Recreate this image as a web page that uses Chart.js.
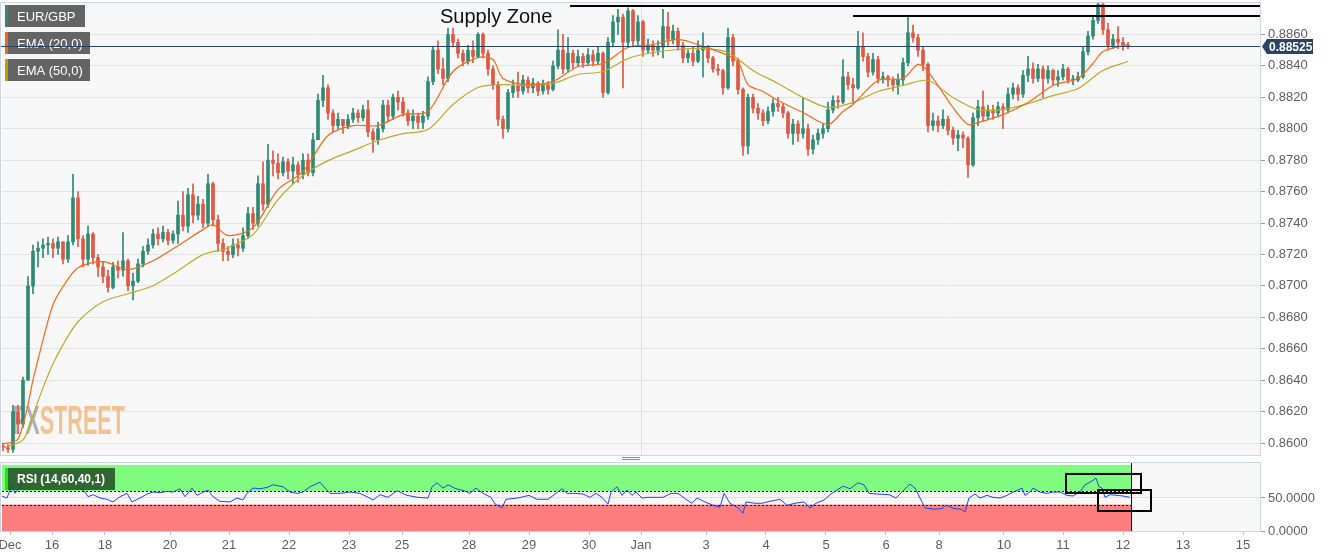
<!DOCTYPE html>
<html>
<head>
<meta charset="utf-8">
<title>EUR/GBP</title>
<script src="https://cdn.jsdelivr.net/npm/chart.js@4.4.0/dist/chart.umd.min.js"></script>
<style>
  html, body { margin: 0; padding: 0; background: #fff; }
  #wrap { position: relative; width: 1331px; height: 558px; }
  #main { position: absolute; left: 0; top: 0; }
  #rsi { position: absolute; left: 0; top: 458px; }
  .handle { position: absolute; left: 622px; width: 18px; height: 1px; background: #8a8a8a; }
</style>
</head>
<body>
<div id="wrap">
  <canvas id="main" width="1331" height="458"></canvas>
  <canvas id="rsi" width="1331" height="100"></canvas>
  <div class="handle" style="top:457px"></div>
  <div class="handle" style="top:459px"></div>
</div>

<script>
// EUR/GBP candles, one per slot (open = previous close)
const firstOpen = 0.8598;
const closes = [
  .8597, .8596, .8620, .8612, .8640, .8700, .8722, .8724, .8726, .8727,
  .8724, .8728, .8717, .8728, .8756, .8730, .8717, .8733, .8718, .8712,
  .8706, .8699, .8712, .8710, .8716, .8700, .8703, .8714, .8722, .8726,
  .8733, .8730, .8734, .8729, .8733, .8745, .8738, .8758, .8745, .8752,
  .8740, .8765, .8742, .8727, .8722, .8720, .8726, .8724, .8732, .8746,
  .8740, .8765, .8752, .8780, .8778, .8772, .8779, .8773, .8777, .8771,
  .8780, .8772, .8793, .8818, .8826, .8810, .8802, .8806, .8802, .8806,
  .8810, .8807, .8812, .8798, .8793, .8800, .8815, .8808, .8820, .8817,
  .8810, .8805, .8808, .8804, .8808, .8830, .8850, .8838, .8832, .8860,
  .8855, .8848, .8843, .8850, .8846, .8860, .8848, .8838, .8828, .8806,
  .8800, .8823, .8827, .8824, .8831, .8826, .8829, .8824, .8828, .8825,
  .8840, .8850, .8838, .8848, .8842, .8846, .8842, .8847, .8843, .8848,
  .8823, .8855, .8868, .8871, .8855, .8875, .8856, .8868, .8850, .8853,
  .8850, .8852, .8865, .8857, .8862, .8853, .8845, .8848, .8843, .8850,
  .8852, .8845, .8838, .8837, .8826, .8858, .8843, .8825, .8789, .8820,
  .8813, .8810, .8805, .8811, .8816, .8814, .8810, .8797, .8803, .8797,
  .8800, .8787, .8793, .8797, .8800, .8812, .8818, .8817, .8833, .8828,
  .8826, .8852, .8846, .8836, .8844, .8832, .8833, .8831, .8828, .8831,
  .8842, .8861, .8858, .8850, .8841, .8802, .8805, .8802, .8806, .8799,
  .8794, .8796, .8794, .8777, .8807, .8814, .8808, .8812, .8810, .8814,
  .8812, .8822, .8826, .8822, .8834, .8838, .8832, .8838, .8832, .8837,
  .8831, .8833, .8838, .8831, .8831, .8833, .8849, .8859, .8869, .8879,
  .8863, .8853, .8857, .8855, .8853, .88525
];
const highs = [
  .8600, .8599, .8624, .8624, .8642, .8706, .8726, .8728, .8730, .8731,
  .8730, .8731, .8728, .8732, .8771, .8760, .8732, .8738, .8734, .8720,
  .8715, .8710, .8715, .8716, .8734, .8717, .8708, .8717, .8725, .8730,
  .8736, .8737, .8738, .8736, .8735, .8754, .8760, .8762, .8765, .8757,
  .8755, .8771, .8766, .8745, .8730, .8725, .8730, .8730, .8737, .8750,
  .8750, .8770, .8779, .8790, .8786, .8784, .8782, .8781, .8782, .8779,
  .8784, .8784, .8797, .8822, .8834, .8828, .8812, .8810, .8806, .8809,
  .8813, .8812, .8815, .8818, .8800, .8804, .8818, .8818, .8822, .8824,
  .8820, .8812, .8812, .8810, .8811, .8833, .8852, .8856, .8845, .8864,
  .8864, .8857, .8850, .8853, .8856, .8861, .8861, .8850, .8840, .8830,
  .8808, .8825, .8831, .8836, .8834, .8833, .8832, .8830, .8831, .8830,
  .8843, .8863, .8860, .8858, .8850, .8850, .8848, .8851, .8850, .8852,
  .8849, .8858, .8872, .8876, .8873, .8877, .8876, .8872, .8869, .8857,
  .8856, .8856, .8876, .8874, .8866, .8864, .8855, .8850, .8852, .8856,
  .8861, .8853, .8846, .8841, .8838, .8864, .8860, .8845, .8826, .8822,
  .8822, .8816, .8812, .8814, .8819, .8820, .8816, .8811, .8806, .8805,
  .8820, .8803, .8796, .8800, .8803, .8817, .8821, .8821, .8844, .8836,
  .8832, .8862, .8861, .8848, .8848, .8846, .8836, .8834, .8833, .8835,
  .8845, .8871, .8866, .8860, .8852, .8842, .8810, .8808, .8812, .8808,
  .8801, .8799, .8798, .8795, .8810, .8818, .8824, .8815, .8815, .8817,
  .8816, .8826, .8829, .8828, .8837, .8846, .8842, .8841, .8840, .8840,
  .8838, .8837, .8841, .8839, .8834, .8836, .8852, .8862, .8872, .8881,
  .8880, .8867, .8860, .8865, .8858, .8855
];
const lows = [
  .8595, .8594, .8594, .8606, .8610, .8640, .8695, .8712, .8718, .8720,
  .8718, .8720, .8714, .8715, .8726, .8725, .8712, .8713, .8714, .8706,
  .8702, .8696, .8698, .8705, .8706, .8697, .8691, .8702, .8712, .8720,
  .8724, .8726, .8728, .8726, .8727, .8727, .8735, .8734, .8740, .8742,
  .8737, .8738, .8738, .8722, .8716, .8716, .8718, .8719, .8722, .8730,
  .8736, .8738, .8748, .8750, .8770, .8768, .8770, .8768, .8765, .8766,
  .8768, .8770, .8770, .8795, .8814, .8806, .8798, .8800, .8797, .8800,
  .8804, .8804, .8805, .8795, .8785, .8790, .8798, .8805, .8806, .8812,
  .8808, .8802, .8800, .8800, .8800, .8806, .8828, .8835, .8828, .8830,
  .8852, .8845, .8840, .8841, .8842, .8845, .8845, .8834, .8825, .8802,
  .8794, .8798, .8820, .8820, .8822, .8823, .8823, .8821, .8822, .8822,
  .8824, .8838, .8835, .8836, .8838, .8840, .8839, .8840, .8840, .8841,
  .8820, .8822, .8852, .8860, .8826, .8852, .8852, .8853, .8846, .8848,
  .8846, .8847, .8845, .8852, .8854, .8850, .8842, .8842, .8840, .8842,
  .8833, .8842, .8836, .8834, .8822, .8825, .8840, .8822, .8783, .8784,
  .8810, .8806, .8802, .8803, .8808, .8811, .8807, .8794, .8790, .8792,
  .8794, .8783, .8784, .8790, .8794, .8798, .8810, .8813, .8816, .8825,
  .8816, .8825, .8843, .8833, .8834, .8829, .8829, .8827, .8824, .8822,
  .8828, .8840, .8855, .8846, .8837, .8798, .8799, .8798, .8800, .8796,
  .8790, .8786, .8788, .8769, .8776, .8802, .8805, .8806, .8806, .8808,
  .8800, .8810, .8819, .8818, .8820, .8830, .8829, .8830, .8820, .8829,
  .8828, .8827, .8831, .8829, .8828, .8830, .8832, .8847, .8857, .8867,
  .8860, .8850, .8851, .8851, .8850, .8851
];

// moving averages: [slot, price]
const ema20 = [
  [0, .85995], [2, .86007], [3, .86026], [4, .86116], [5, .86243], [6, .86402], [7, .86530],
  [8, .86657], [10, .86880], [12, .86995], [15, .87116], [20, .87154], [25, .87103], [30, .87160],
  [35, .87256], [40, .87358], [42, .87390], [45, .87320], [50, .87371], [55, .87613], [60, .87727],
  [65, .87957], [70, .88020], [75, .88020], [80, .88090], [85, .88110], [90, .88364], [95, .88453],
  [98, .88441], [100, .88320], [105, .88281], [110, .88301], [115, .88396], [120, .88415],
  [125, .88517], [130, .88536], [135, .88568], [140, .88524], [145, .88466], [147, .88428],
  [149, .88281], [152, .88237], [155, .88180], [160, .88103], [165, .88027], [168, .88110],
  [170, .88154], [175, .88307], [180, .88320], [183, .88409], [185, .88364], [190, .88135],
  [193, .88027], [195, .88039], [200, .88090], [205, .88167], [210, .88275], [215, .88320],
  [218, .88415], [220, .88492], [225, .88536]
];
const ema50 = [
  [0, .85969], [4, .86020], [6, .86179], [8, .86351], [10, .86504], [12, .86625], [15, .86772],
  [20, .86899], [25, .86950], [30, .87001], [35, .87097], [40, .87199], [45, .87243], [50, .87326],
  [55, .87549], [60, .87702], [65, .87797], [70, .87861], [75, .87925], [80, .87969], [85, .87995],
  [90, .88154], [95, .88262], [100, .88281], [105, .88275], [110, .88288], [115, .88345],
  [120, .88364], [125, .88447], [130, .88485], [135, .88504], [140, .88511], [145, .88485],
  [150, .88371], [155, .88288], [160, .88199], [165, .88135], [170, .88167], [175, .88237],
  [180, .88275], [185, .88307], [190, .88199], [195, .88122], [200, .88122], [205, .88160],
  [210, .88211], [215, .88256], [220, .88371], [225, .88428]
];

// RSI (14): [slot, value]
const rsi = [
  [-0.6, 54], [0.8, 50], [1.8, 70], [2.4, 57], [3.4, 67], [4.4, 80], [6, 85], [8, 86], [10, 77],
  [12, 80], [14, 73], [15.4, 65], [16.4, 59], [17, 52], [18, 55], [19.4, 50], [20.8, 48], [22, 44],
  [23.4, 52], [24.8, 57], [25.8, 44], [27.4, 50], [28.8, 56], [30, 59], [31.4, 58], [32.8, 60],
  [34, 59], [35.4, 64], [36.4, 52], [37.8, 65], [38.8, 54], [40, 59], [41, 62], [42, 52],
  [43.4, 45], [45.4, 44], [46.8, 50], [48, 47], [48.8, 57], [50, 65], [51.4, 64], [52.8, 66],
  [54, 70], [56, 67], [57.4, 59], [58.8, 57], [60, 59], [61.4, 67], [63.4, 74], [64.4, 65],
  [65.4, 57], [67.4, 57], [69.4, 59], [71.4, 57], [72.8, 52], [74, 47], [75.4, 55], [77, 51],
  [78.8, 61], [80.8, 54], [83, 51], [85, 50], [85.8, 67], [86.8, 73], [88, 65], [89, 70],
  [90.6, 64], [92.2, 61], [93.4, 57], [94.6, 65], [96, 57], [97.6, 51], [98.4, 41], [99.8, 35],
  [100.6, 48], [103, 50], [105.2, 54], [106.8, 48], [109, 48], [110.6, 57], [111.8, 64],
  [112.8, 57], [114.4, 57], [116, 56], [117.4, 51], [118.6, 57], [119.8, 51], [121, 41],
  [121.6, 59], [122.8, 67], [123.8, 54], [124.8, 62], [125.8, 54], [126.6, 59], [127.8, 50],
  [129, 51], [130.4, 51], [132, 51], [133.6, 57], [135, 57], [136.6, 48], [137.8, 42],
  [138.8, 50], [140.4, 44], [142, 39], [143.4, 36], [144.2, 57], [145.4, 42], [147, 35],
  [148, 27], [148.6, 44], [150.4, 42], [151.8, 42], [153.4, 45], [155.4, 48], [156.8, 39],
  [158.4, 42], [160.2, 44], [161.4, 35], [162.6, 42], [164.2, 47], [165.6, 56], [168, 68],
  [169.4, 64], [171, 73], [172.2, 70], [173.2, 57], [174.8, 56], [177.2, 55], [178.6, 50],
  [179.8, 59], [181.4, 71], [182.4, 65], [183.6, 47], [184.4, 35], [186.2, 33], [187.8, 34],
  [188.6, 39], [190.2, 34], [191.6, 33], [192.4, 29], [193.2, 50], [194.4, 56], [195.4, 50],
  [196.8, 54], [198, 51], [199.4, 50], [200.8, 54], [202, 59], [203, 62], [203.8, 65],
  [204.4, 54], [205.4, 59], [206, 65], [207.4, 59], [208.8, 57], [210, 59], [211.4, 59],
  [212.8, 54], [214, 53], [215.4, 59], [216.4, 70], [217.4, 74], [218.6, 80], [219.2, 67],
  [219.8, 65], [220.4, 51], [221.4, 55], [222.8, 54], [224, 53], [225.4, 51]
];

// axis ticks
const tickPos = [1.4, 9.8, 20.4, 33.4, 45.2, 57.2, 69.2, 79.8, 93.2, 105.2, 117.2, 127.6,
                 140.6, 152.6, 164.6, 176.6, 187.2, 200.2, 212, 224, 236, 248];
const tickLabels = ['Dec', '16', '18', '20', '21', '22', '23', '25', '28', '29', '30', 'Jan',
                    '3', '4', '5', '6', '8', '10', '11', '12', '13', '15'];
const priceTicks = [.8600, .8620, .8640, .8660, .8680, .8700, .8720, .8740, .8760, .8780,
                    .8800, .8820, .8840, .8860];

// drawn levels
const supplyLines = [ { from: 113.4, price: .88778 }, { from: 170, price: .88715 } ];
const supplyLabel = { x: 87.4, price: .88708, text: 'Supply Zone' };
const rsiBoxes = [ { x0: 212.6, x1: 227.6, y0: 57.6, y1: 86.4 },
                   { x0: 219, x1: 229.6, y0: 30.3, y1: 62.1 } ];

const UP = '#2e8a73', DOWN = '#de5843';
const FONT = '"Liberation Sans", Arial, sans-serif';
Chart.defaults.font.family = FONT;

const opens = closes.map((c, i) => i === 0 ? firstOpen : closes[i - 1]);
const candleColors = closes.map((c, i) => c >= opens[i] ? UP : DOWN);
const lastIdx = closes.length - 1;
const lastClose = closes[lastIdx];

function legendBox(ctx, x, y, w, h, fill, strip, text) {
  ctx.fillStyle = fill;
  ctx.fillRect(x, y, w, h);
  ctx.fillStyle = strip;
  ctx.fillRect(x, y, 3, h);
  ctx.fillStyle = '#fff';
  ctx.font = '13px ' + FONT;
  ctx.textBaseline = 'middle';
  ctx.textAlign = 'left';
  ctx.fillText(text, x + 12, y + h / 2 + 1);
}

const mainDecor = {
  id: 'mainDecor',
  beforeDraw(chart) {
    const { ctx, chartArea: a } = chart;
    ctx.save();
    ctx.fillStyle = '#f7f7f7';
    ctx.fillRect(a.left, a.top, a.right - a.left, a.bottom - a.top);
    ctx.restore();
  },
  beforeDatasetsDraw(chart) {
    const { ctx, chartArea: a, scales: { x } } = chart;
    ctx.save();
    const jx = Math.round(x.getPixelForValue(tickPos[tickLabels.indexOf('Jan')])) + 0.5;
    ctx.strokeStyle = '#dedede';
    ctx.lineWidth = 1;
    ctx.beginPath(); ctx.moveTo(jx, a.top); ctx.lineTo(jx, a.bottom); ctx.stroke();

    // watermark
    ctx.font = 'bold 40px "Liberation Sans Narrow", ' + FONT;
    ctx.textBaseline = 'alphabetic';
    const wFx = ctx.measureText('FX').width, wAll = ctx.measureText('FXSTREET').width;
    ctx.translate(12, 434);
    ctx.scale(113 / wAll, 1);
    ctx.fillStyle = 'rgba(120,120,120,0.55)';
    ctx.fillText('FX', 0, 0);
    ctx.fillStyle = 'rgba(236,160,80,0.6)';
    ctx.fillText('STREET', wFx, 0);
    ctx.restore();
  },
  afterDatasetsDraw(chart) {
    const { ctx, chartArea: a, scales: { x, y } } = chart;
    ctx.save();
    legendBox(ctx, 5, 5, 80, 22, 'rgba(88,88,88,0.93)', '#2e8a7a', 'EUR/GBP');
    legendBox(ctx, 5, 32, 85, 22, 'rgba(88,88,88,0.93)', '#ec6a12', 'EMA (20,0)');
    legendBox(ctx, 5, 59, 85, 22, 'rgba(88,88,88,0.93)', '#b3a200', 'EMA (50,0)');

    // supply zone
    ctx.strokeStyle = '#000';
    ctx.lineWidth = 2;
    supplyLines.forEach(l => {
      const py = Math.round(y.getPixelForValue(l.price));
      ctx.beginPath(); ctx.moveTo(x.getPixelForValue(l.from), py); ctx.lineTo(a.right, py); ctx.stroke();
    });
    ctx.fillStyle = '#111';
    ctx.font = '20px ' + FONT;
    ctx.textBaseline = 'middle';
    ctx.textAlign = 'left';
    ctx.fillText(supplyLabel.text, x.getPixelForValue(supplyLabel.x), y.getPixelForValue(supplyLabel.price));

    // last price line + tag
    const ly = Math.round(y.getPixelForValue(lastClose)) + 0.5;
    ctx.strokeStyle = '#2b4466';
    ctx.lineWidth = 1;
    ctx.beginPath(); ctx.moveTo(a.left - 2, ly); ctx.lineTo(a.right, ly); ctx.stroke();

    // frame
    ctx.strokeStyle = '#cbd3e4';
    ctx.strokeRect(a.left - 1.5, a.top - 0.5, a.right - a.left + 2, a.bottom - a.top + 1);

    const tx = a.right + 2;
    ctx.fillStyle = '#2b4466';
    ctx.beginPath();
    ctx.moveTo(tx, ly);
    ctx.lineTo(tx + 5, ly - 7.5);
    ctx.lineTo(tx + 51, ly - 7.5);
    ctx.lineTo(tx + 51, ly + 7.5);
    ctx.lineTo(tx + 5, ly + 7.5);
    ctx.closePath();
    ctx.fill();
    ctx.fillStyle = '#fff';
    ctx.font = 'bold 12px ' + FONT;
    ctx.textAlign = 'left';
    ctx.fillText(lastClose.toFixed(5), tx + 7, ly + 1);
    ctx.restore();
  }
};

new Chart(document.getElementById('main'), {
  type: 'bar',
  data: {
    datasets: [
      { type: 'line', label: 'EMA (20,0)', data: ema20.map(p => ({ x: p[0], y: p[1] })),
        borderColor: '#f26a1b', borderWidth: 1.2, pointRadius: 0, tension: 0.3, order: 0 },
      { type: 'line', label: 'EMA (50,0)', data: ema50.map(p => ({ x: p[0], y: p[1] })),
        borderColor: '#bcab2a', borderWidth: 1.2, pointRadius: 0, tension: 0.3, order: 0 },
      { label: 'body', data: closes.map((c, i) => ({ x: i, y: [opens[i], c] })),
        backgroundColor: candleColors, barThickness: 3, minBarLength: 1, grouped: false, order: 1 },
      { label: 'wick', data: closes.map((c, i) => ({ x: i, y: [lows[i], highs[i]] })),
        backgroundColor: candleColors, barThickness: 1, grouped: false, order: 2 }
    ]
  },
  options: {
    responsive: false,
    animation: false,
    events: [],
    layout: { padding: { left: 2, top: 3, bottom: 3, right: 0 } },
    plugins: { legend: { display: false }, tooltip: { enabled: false } },
    scales: {
      x: { type: 'linear', min: -0.2, max: 251.4, offset: false, display: false },
      y: {
        position: 'right', min: 0.85924, max: 0.8880,
        afterBuildTicks: s => { s.ticks = priceTicks.map(v => ({ value: v })); },
        afterFit: s => { s.width = 71; s.paddingTop = 0; s.paddingBottom = 0; },
        ticks: { callback: v => v.toFixed(4), color: '#5e5e5e', font: { size: 13 }, padding: 3 },
        grid: { color: '#e3e3e3', tickLength: 5, tickColor: '#9a9a9a' },
        border: { display: false }
      }
    }
  },
  plugins: [mainDecor]
});

const rsiDecor = {
  id: 'rsiDecor',
  beforeDraw(chart) {
    const { ctx, chartArea: a } = chart;
    ctx.save();
    ctx.fillStyle = '#f7f7f7';
    ctx.fillRect(a.left, a.top, a.right - a.left, a.bottom - a.top);
    ctx.restore();
  },
  beforeDatasetsDraw(chart) {
    const { ctx, chartArea: a, scales: { x, y } } = chart;
    const xe = Math.round(x.getPixelForValue(lastIdx + 0.6));
    ctx.save();
    ctx.fillStyle = '#7ffc7f';
    ctx.fillRect(a.left, y.getPixelForValue(100), xe - a.left, y.getPixelForValue(60) - y.getPixelForValue(100));
    ctx.fillStyle = '#fb7d7d';
    ctx.fillRect(a.left, y.getPixelForValue(40), xe - a.left, y.getPixelForValue(0) - y.getPixelForValue(40));
    ctx.strokeStyle = '#111';
    ctx.lineWidth = 1;
    ctx.setLineDash([2, 2]);
    [60, 40].forEach(v => {
      const py = Math.round(y.getPixelForValue(v)) + 0.5;
      ctx.beginPath(); ctx.moveTo(a.left, py); ctx.lineTo(xe, py); ctx.stroke();
    });
    ctx.setLineDash([]);
    ctx.beginPath(); ctx.moveTo(xe + 0.5, a.top); ctx.lineTo(xe + 0.5, a.bottom); ctx.stroke();
    ctx.restore();
  },
  afterDatasetsDraw(chart) {
    const { ctx, chartArea: a, scales: { x, y } } = chart;
    ctx.save();
    ctx.strokeStyle = '#000';
    ctx.lineWidth = 2;
    rsiBoxes.forEach(b => {
      const x0 = x.getPixelForValue(b.x0), x1 = x.getPixelForValue(b.x1);
      const y0 = y.getPixelForValue(b.y1), y1 = y.getPixelForValue(b.y0);
      ctx.strokeRect(x0, y0, x1 - x0, y1 - y0);
    });
    ctx.fillStyle = 'rgba(40,85,40,0.9)';
    ctx.fillRect(5, 10, 110, 22);
    ctx.fillStyle = '#19e619';
    ctx.fillRect(5, 10, 3, 22);
    ctx.fillStyle = '#fff';
    ctx.font = 'bold 12px ' + FONT;
    ctx.textBaseline = 'middle';
    ctx.fillText('RSI (14,60,40,1)', 17, 22);
    ctx.strokeStyle = '#cbd3e4';
    ctx.lineWidth = 1;
    ctx.strokeRect(a.left - 1.5, a.top - 0.5, a.right - a.left + 2, a.bottom - a.top + 1);
    ctx.restore();
  }
};

new Chart(document.getElementById('rsi'), {
  type: 'line',
  data: {
    datasets: [{ label: 'RSI (14,60,40,1)', data: rsi.map(p => ({ x: p[0], y: p[1] })),
      borderColor: '#1f45f0', borderWidth: 1, pointRadius: 0, tension: 0 }]
  },
  options: {
    responsive: false,
    animation: false,
    events: [],
    layout: { padding: { left: 2, top: 5, right: 0, bottom: 0 } },
    plugins: { legend: { display: false }, tooltip: { enabled: false } },
    scales: {
      x: {
        type: 'linear', min: -0.2, max: 251.4,
        afterBuildTicks: s => { s.ticks = tickPos.map(v => ({ value: v })); },
        afterFit: s => { s.height = 27; s.paddingLeft = 0; s.paddingRight = 0; },
        ticks: { callback: (v, i) => tickLabels[i], autoSkip: false, maxRotation: 0,
                 color: '#5e5e5e', font: { size: 13 }, padding: 3 },
        grid: { drawOnChartArea: false, tickLength: 4, tickColor: '#b8c0d2' },
        border: { display: false }
      },
      y: {
        position: 'right', min: 0, max: 103,
        afterBuildTicks: s => { s.ticks = [{ value: 0 }, { value: 50 }]; },
        afterFit: s => { s.width = 71; s.paddingTop = 0; s.paddingBottom = 0; },
        ticks: { callback: v => v.toFixed(4), color: '#5e5e5e', font: { size: 13 }, padding: 3 },
        grid: { color: '#e0e0e0', tickLength: 5, tickColor: '#9a9a9a' },
        border: { display: false }
      }
    }
  },
  plugins: [rsiDecor]
});
</script>
</body>
</html>
